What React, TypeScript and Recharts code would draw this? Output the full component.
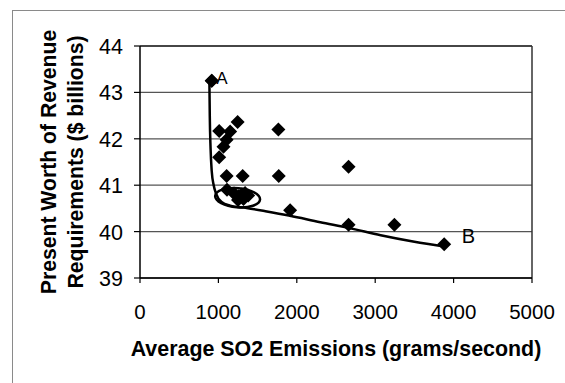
import React from "react";
import {
  ComposedChart,
  Scatter,
  Line,
  XAxis,
  YAxis,
  CartesianGrid,
  ReferenceLine,
  Label,
  LabelList,
} from "recharts";

// Scatter points: average SO2 emissions (g/s) and present worth ($ billions)
const emissions = [
  915, 1010, 1245, 1150, 1105, 1065, 1010, 1765, 2660, 1105, 1310, 1770,
  1110, 1200, 1260, 1300, 1340, 1380, 1250, 1320, 1915, 2660, 3245,
];
const revenue = [
  43.25, 42.17, 42.36, 42.16, 41.98, 41.83, 41.6, 42.2, 41.4, 41.2, 41.2, 41.2,
  40.9, 40.82, 40.76, 40.8, 40.83, 40.78, 40.68, 40.7, 40.46, 40.15, 40.15,
];

// Labeled end points
const endLabels = ["A", "B"];
const endX = [915, 3880];
const endY = [43.25, 39.73];

// Trade-off curve
const curveX = [
  885, 890, 900, 915, 940, 970, 1040, 1150, 1360, 1600, 1915, 2300, 2660,
  3070, 3500, 3880,
];
const curveY = [
  43.25, 42.5, 41.8, 41.3, 41.0, 40.82, 40.64, 40.56, 40.51, 40.44, 40.34,
  40.2, 40.08, 39.92, 39.78, 39.68,
];

// Circled cluster (center)
const clusterX = [1245];
const clusterY = [40.73];

const xTicks = [0, 1000, 2000, 3000, 4000, 5000];
const yTicks = [39, 40, 41, 42, 43, 44];

const xTitle = "Average SO2 Emissions (grams/second)";
const yTitleLines = ["Present Worth of Revenue", "Requirements ($ billions)"];

const points = emissions.map((x, i) => ({ x, y: revenue[i] }));
const ends = endX.map((x, i) => ({ x, y: endY[i], label: endLabels[i] }));
const curve = curveX.map((x, i) => ({ x, y: curveY[i] }));
const cluster = clusterX.map((x, i) => ({ x, y: clusterY[i] }));

const FONT = "'Liberation Sans', Arial, Helvetica, sans-serif";

const Diamond = (props: any) => {
  const { cx, cy } = props;
  if (cx == null || cy == null) return null;
  const r = 7;
  return (
    <polygon
      points={`${cx},${cy - r} ${cx + r},${cy} ${cx},${cy + r} ${cx - r},${cy}`}
      fill="#000"
    />
  );
};

const EllipseShape = (props: any) => {
  const { cx, cy } = props;
  if (cx == null || cy == null) return null;
  return (
    <ellipse
      cx={cx}
      cy={cy}
      rx={22.5}
      ry={9.5}
      fill="none"
      stroke="#000"
      strokeWidth={2.5}
      transform={`rotate(5 ${cx} ${cy})`}
    />
  );
};

const XTick = (props: any) => {
  const { x, y, payload } = props;
  return (
    <text
      x={x}
      y={y}
      dy={22}
      textAnchor="middle"
      fontFamily={FONT}
      fontSize={20.5}
      fill="#000"
    >
      {payload.value}
    </text>
  );
};

const YTick = (props: any) => {
  const { x, y, payload } = props;
  return (
    <text
      x={x}
      y={y}
      dy={8}
      textAnchor="end"
      fontFamily={FONT}
      fontSize={21.5}
      fill="#000"
    >
      {payload.value}
    </text>
  );
};

const XTitle = (props: any) => {
  const vb = props.viewBox || {};
  return (
    <text
      x={vb.x + vb.width / 2}
      y={vb.y + 78}
      textAnchor="middle"
      fontFamily={FONT}
      fontWeight="bold"
      fontSize={21.4}
      fill="#000"
    >
      {xTitle}
    </text>
  );
};

const YTitle = (props: any) => {
  const vb = props.viewBox || {};
  const cy = vb.y + vb.height / 2;
  const xs = [48, 75];
  return (
    <g>
      {yTitleLines.map((t, i) => (
        <text
          key={i}
          transform={`translate(${xs[i]},${cy}) rotate(-90)`}
          textAnchor="middle"
          dominantBaseline="central"
          fontFamily={FONT}
          fontWeight="bold"
          fontSize={21.2}
          fill="#000"
        >
          {t}
        </text>
      ))}
    </g>
  );
};

const EndLabel = (props: any) => {
  const { x, y, value, index } = props;
  const dx = index === 0 ? 9 : 22;
  const dy = index === 0 ? 8 : 3;
  return (
    <text
      x={x + dx}
      y={y + dy}
      fontFamily={FONT}
      fontSize={index === 0 ? 17 : 20}
      fill="#000"
    >
      {value}
    </text>
  );
};

export default function App() {
  return (
    <div style={{ position: "absolute", left: 0, top: 0, width: 565, height: 383, background: "#fff" }}>
      <div
        style={{
          position: "absolute",
          left: 12,
          top: 10,
          width: 553,
          height: 373,
          borderLeft: "1.5px solid #8a8a8a",
          borderTop: "1.5px solid #8a8a8a",
        }}
      />
      <ComposedChart
        width={565}
        height={383}
        margin={{ top: 46, right: 33, bottom: 35, left: 0 }}
        style={{ position: "absolute", left: 0, top: 0 }}
      >
        <CartesianGrid
          horizontal
          vertical={false}
          stroke="#555"
          strokeWidth={1.3}
        />
        <XAxis
          type="number"
          dataKey="x"
          domain={[0, 5000]}
          ticks={xTicks}
          allowDataOverflow
          height={70}
          axisLine={{ stroke: "#000", strokeWidth: 1.5 }}
          tickLine={{ stroke: "#000", strokeWidth: 1.2 }}
          tickSize={5}
          tickMargin={14}
          tick={<XTick />}
        >
          <Label content={<XTitle />} />
        </XAxis>
        <YAxis
          type="number"
          dataKey="y"
          domain={[39, 44]}
          ticks={yTicks}
          allowDataOverflow
          width={140}
          axisLine={{ stroke: "#000", strokeWidth: 1.5 }}
          tickLine={{ stroke: "#000", strokeWidth: 1.2 }}
          tickSize={6}
          tickMargin={11}
          tick={<YTick />}
        >
          <Label content={<YTitle />} />
        </YAxis>
        <ReferenceLine x={5000} stroke="#333" strokeWidth={1.5} />
        <ReferenceLine y={44} stroke="#333" strokeWidth={1.5} />
        <Line
          data={curve}
          dataKey="y"
          type="monotone"
          stroke="#000"
          strokeWidth={2.5}
          dot={false}
          activeDot={false}
          isAnimationActive={false}
        />
        <Scatter
          data={cluster}
          shape={<EllipseShape />}
          isAnimationActive={false}
        />
        <Scatter data={points} shape={<Diamond />} isAnimationActive={false} />
        <Scatter data={ends} shape={<Diamond />} isAnimationActive={false}>
          <LabelList dataKey="label" content={<EndLabel />} />
        </Scatter>
      </ComposedChart>
    </div>
  );
}
